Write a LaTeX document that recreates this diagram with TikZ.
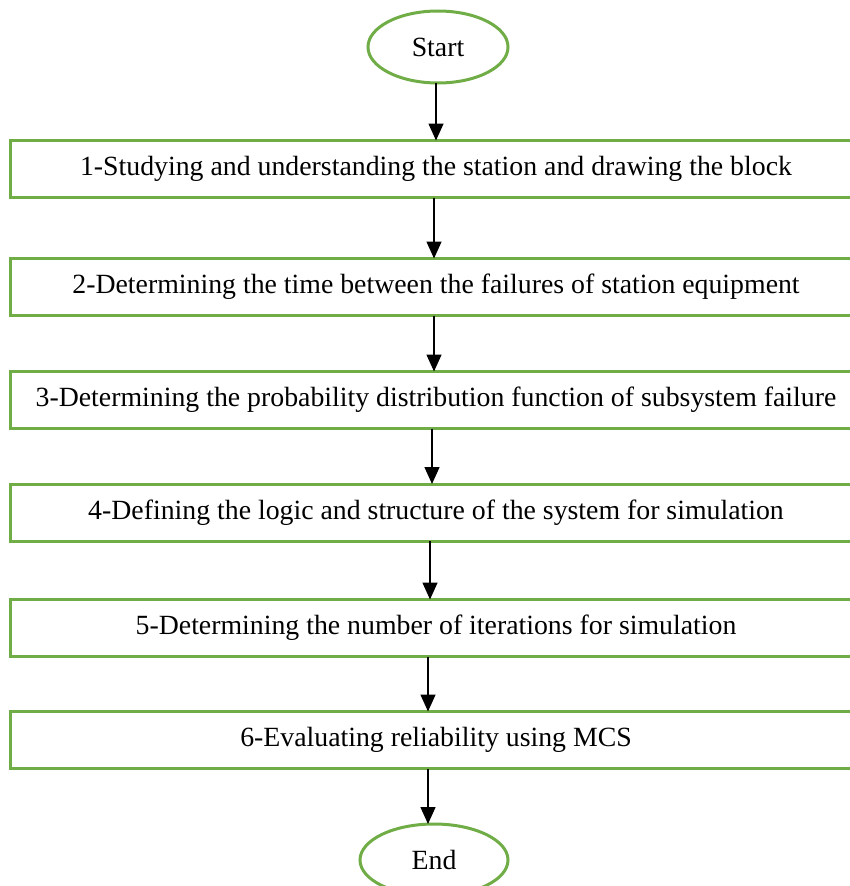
\documentclass[tikz,border=0pt]{standalone}
\usepackage{fontspec}
\setmainfont{Liberation Serif}
\usetikzlibrary{arrows.meta,shapes.geometric}
\definecolor{boxgreen}{HTML}{70AD47}
\begin{document}
\begin{tikzpicture}[x=1pt,y=-1pt,
  stepbox/.style={draw=boxgreen, line width=3pt, minimum width=852pt, minimum height=57pt, inner sep=0pt, outer sep=0pt, font=\fontsize{27.8}{32}\selectfont},
  term/.style={draw=boxgreen, line width=3pt, ellipse, minimum width=140pt, minimum height=72pt, inner sep=0pt, outer sep=0pt, font=\fontsize{27.8}{32}\selectfont},
  conn/.style={line width=1.5pt, -{Triangle[width=15pt,length=17pt]}}]
\useasboundingbox (0,0) rectangle (850,886);
\clip (0,0) rectangle (850,886);
\node[term] (start) at (438,47) {Start};
\node[stepbox] (b1) at (436,169) {1-Studying and understanding the station and drawing the block};
\node[stepbox] (b2) at (436,287) {2-Determining the time between the failures of station equipment};
\node[stepbox] (b3) at (436,400) {3-Determining the probability distribution function of subsystem failure};
\node[stepbox] (b4) at (436,512.5) {4-Defining the logic and structure of the system for simulation};
\node[stepbox] (b5) at (436,628) {5-Determining the number of iterations for simulation};
\node[stepbox] (b6) at (436,740) {6-Evaluating reliability using MCS};
\node[term, minimum width=148pt] (end) at (434,860) {End};
\draw[conn] ([xshift=-2pt]start.south) -- ([xshift=0pt]b1.north);
\draw[conn] ([xshift=-2pt]b1.south) -- ([xshift=-2pt]b2.north);
\draw[conn] ([xshift=-2pt]b2.south) -- ([xshift=-2pt]b3.north);
\draw[conn] ([xshift=-4pt]b3.south) -- ([xshift=-4pt]b4.north);
\draw[conn] ([xshift=-6pt]b4.south) -- ([xshift=-6pt]b5.north);
\draw[conn] ([xshift=-8pt]b5.south) -- ([xshift=-8pt]b6.north);
\draw[conn] ([xshift=-8pt]b6.south) -- ([xshift=-6pt]end.north);
\end{tikzpicture}
\end{document}
